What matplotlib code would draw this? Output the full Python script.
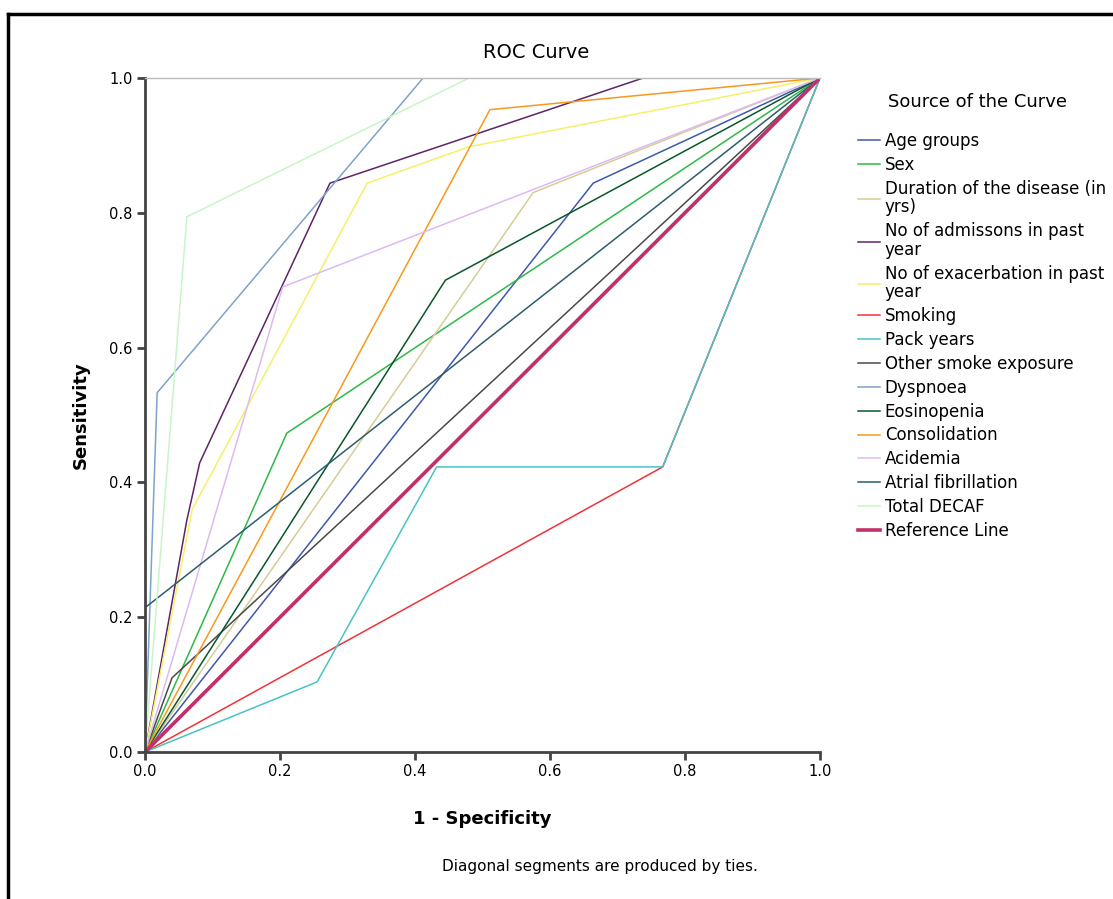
import matplotlib
matplotlib.use("Agg")
import matplotlib.pyplot as plt
from matplotlib.lines import Line2D

# ROC vertices (1 - specificity, sensitivity)
age_x = [0, 0.664, 1]
age_y = [0, 0.844, 1]
sex_x = [0, 0.21, 1]
sex_y = [0, 0.473, 1]
dur_x = [0, 0.575, 1]
dur_y = [0, 0.83, 1]
adm_x = [0, 0.062, 0.081, 0.274, 0.738, 1]
adm_y = [0, 0.344, 0.429, 0.844, 1, 1]
exa_x = [0, 0.07, 0.329, 0.48, 1]
exa_y = [0, 0.36, 0.844, 0.898, 1]
smk_x = [0, 0.767, 1]
smk_y = [0, 0.423, 1]
pack_x = [0, 0.255, 0.432, 0.767, 1]
pack_y = [0, 0.104, 0.423, 0.423, 1]
oth_x = [0, 0.04, 1]
oth_y = [0, 0.11, 1]
dys_x = [0, 0.018, 0.412, 1]
dys_y = [0, 0.533, 1, 1]
eos_x = [0, 0.445, 1]
eos_y = [0, 0.70, 1]
con_x = [0, 0.511, 1]
con_y = [0, 0.953, 1]
aci_x = [0, 0.204, 1]
aci_y = [0, 0.69, 1]
af_x = [0, 0, 1]
af_y = [0, 0.214, 1]
dec_x = [0, 0.062, 0.48, 1]
dec_y = [0, 0.794, 1, 1]
ref_x = [0, 1]
ref_y = [0, 1]

CURVES = [
    ("Age groups", age_x, age_y, "#3E58AC"),
    ("Sex", sex_x, sex_y, "#2EB848"),
    ("Duration of the disease (in\nyrs)", dur_x, dur_y, "#D3CE97"),
    ("No of admissons in past\nyear", adm_x, adm_y, "#5E2466"),
    ("No of exacerbation in past\nyear", exa_x, exa_y, "#F5F06A"),
    ("Smoking", smk_x, smk_y, "#EF3338"),
    ("Pack years", pack_x, pack_y, "#48C2C5"),
    ("Other smoke exposure", oth_x, oth_y, "#4A4A4A"),
    ("Dyspnoea", dys_x, dys_y, "#7FA3C8"),
    ("Eosinopenia", eos_x, eos_y, "#0A562C"),
    ("Consolidation", con_x, con_y, "#F8981D"),
    ("Acidemia", aci_x, aci_y, "#DDBAF1"),
    ("Atrial fibrillation", af_x, af_y, "#2F5C6E"),
    ("Total DECAF", dec_x, dec_y, "#C8F5C8"),
]

W, H = 1113, 899
plt.rcParams["font.family"] = ["DejaVu Sans"]
fig = plt.figure(figsize=(W / 100, H / 100), dpi=100)
ax = fig.add_axes([145 / W, 1 - 752 / H, 675 / W, 674 / H])

for name, x, y, c in CURVES:
    ax.plot(x, y, color=c, lw=1.1, label=name)
ax.plot(ref_x, ref_y, color="#C0306A", lw=2.6, label="Reference Line")

ax.set_xlim(0, 1)
ax.set_ylim(0, 1)
ticks = [0, 0.2, 0.4, 0.6, 0.8, 1.0]
ax.set_xticks(ticks)
ax.set_yticks(ticks)
ax.set_xticklabels([f"{t:.1f}" for t in ticks], fontsize=10.5)
ax.set_yticklabels([f"{t:.1f}" for t in ticks], fontsize=10.5)
ax.tick_params(length=6, width=2, color="#444444", pad=3)
for s in ("left", "bottom"):
    ax.spines[s].set_linewidth(2)
    ax.spines[s].set_color("#444444")
ax.spines["top"].set_color("#BBBBBB")
ax.spines["top"].set_linewidth(1)
ax.spines["right"].set_visible(False)

fig.text(536 / W, 1 - 52 / H, "ROC Curve", ha="center", va="center", fontsize=14)
ax.set_xlabel("1 - Specificity", fontsize=13, fontweight="bold", labelpad=22)
ax.set_ylabel("Sensitivity", fontsize=13, fontweight="bold", labelpad=14)

fig.text(600 / W, 1 - 866 / H, "Diagonal segments are produced by ties.",
         ha="center", va="center", fontsize=11)

fig.text(978 / W, 1 - 102 / H, "Source of the Curve", ha="center", va="center", fontsize=13)
leg = fig.legend(loc="upper left", bbox_to_anchor=(858 / W, 1 - 132 / H),
                 frameon=False, fontsize=12, handlelength=1.3, handletextpad=0.3,
                 labelspacing=0.35, borderaxespad=0, borderpad=0)
for t in leg.get_texts():
    t.set_linespacing(1.05)

# outer frame (left and top edge)
fig.add_artist(Line2D([8 / W, 8 / W], [0, 1 - 14 / H], color="black", lw=2.5))
fig.add_artist(Line2D([8 / W, 1], [1 - 14 / H, 1 - 14 / H], color="black", lw=2.5))

fig.savefig("out.png", dpi=100)
